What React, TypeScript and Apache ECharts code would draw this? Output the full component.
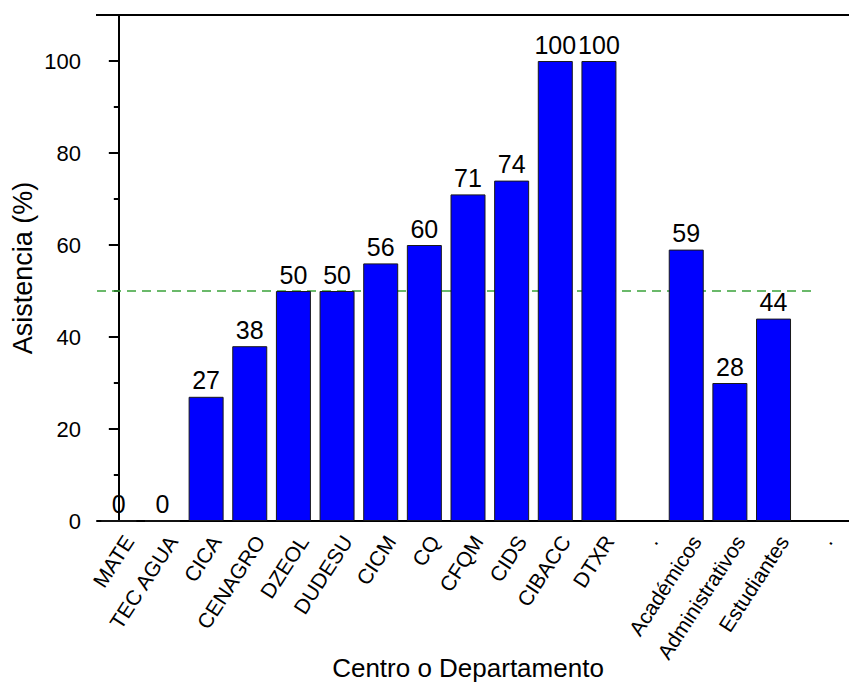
import React, { useEffect, useRef } from "react";
import * as echarts from "echarts";

const categories = [
  "MATE", "TEC AGUA", "CICA", "CENAGRO", "DZEOL", "DUDESU", "CICM", "CQ",
  "CFQM", "CIDS", "CIBACC", "DTXR", ".", "Académicos", "Administrativos",
  "Estudiantes", ".",
];
const values = [0, 0, 27, 38, 50, 50, 56, 60, 71, 74, 100, 100, null, 59, 30, 44, null];
const valueLabels = ["0", "0", "27", "38", "50", "50", "56", "60", "71", "74", "100", "100", "", "59", "28", "44", ""];
const threshold = 50;
// threshold line extent, in category-index units
const thresholdSpan = [-0.5, 15.9];
const yMin = 0;
const yMax = 110;
const yInterval = 20;

const FONT = "'Liberation Sans', Arial, sans-serif";

export default function App() {
  const ref = useRef<HTMLDivElement>(null);
  useEffect(() => {
    if (!ref.current) return;
    const chart = echarts.init(ref.current, undefined, { renderer: "svg" });
    const gridLeft = 97;
    const gridTop = 15;
    const gridWidth = 742;
    const gridHeight = 506;
    chart.setOption({
      animation: false,
      backgroundColor: "#ffffff",
      textStyle: { fontFamily: FONT },
      grid: {
        left: gridLeft, top: gridTop, width: gridWidth, height: gridHeight,
        containLabel: false, outerBoundsMode: "none",
      },
      xAxis: [
        {
          type: "category",
          data: categories,
          boundaryGap: true,
          name: "Centro o Departamento",
          nameLocation: "middle",
          nameGap: 134,
          nameMoveOverlap: false,
          nameTextStyle: { fontSize: 26, color: "#000", fontFamily: FONT },
          axisLine: { show: true, lineStyle: { color: "#000", width: 2 } },
          axisTick: { show: false },
          axisLabel: {
            interval: 0,
            rotate: 57,
            margin: 10,
            lineHeight: 24,
            fontSize: 21,
            color: "#000",
            fontFamily: FONT,
            formatter: (v: string) => "\n" + v,
          },
          splitLine: { show: false },
        },
        {
          type: "value",
          min: -0.5,
          max: categories.length - 0.5,
          show: false,
        },
      ],
      yAxis: {
        type: "value",
        min: yMin,
        max: yMax,
        interval: yInterval,
        name: "Asistencia (%)",
        nameLocation: "middle",
        nameGap: 61,
        nameMoveOverlap: false,
        nameTextStyle: { fontSize: 27, color: "#000", fontFamily: FONT },
        axisLine: { show: true, lineStyle: { color: "#000", width: 2 } },
        axisTick: { show: true, inside: false, length: 10, lineStyle: { color: "#000", width: 2 } },
        minorTick: { show: true, splitNumber: 2, length: 5, lineStyle: { color: "#000", width: 2 } },
        axisLabel: {
          margin: 16,
          fontSize: 22,
          color: "#000",
          fontFamily: FONT,
          showMaxLabel: false,
        },
        splitLine: { show: false },
      },
      graphic: [
        {
          type: "line",
          shape: { x1: gridLeft - 1, y1: gridTop, x2: 849, y2: gridTop },
          style: { stroke: "#000", lineWidth: 2 },
          silent: true,
        },
        {
          type: "line",
          shape: { x1: gridLeft + gridWidth, y1: gridTop + gridHeight, x2: 849, y2: gridTop + gridHeight },
          style: { stroke: "#000", lineWidth: 2 },
          silent: true,
        },
      ],
      series: [
        {
          type: "bar",
          data: values,
          barWidth: 35,
          itemStyle: { color: "#0000ff", borderColor: "#1a1a1a", borderWidth: 1 },
          label: {
            show: true,
            position: "top",
            distance: 4,
            fontSize: 25,
            color: "#000",
            fontFamily: FONT,
            formatter: (p: any) => valueLabels[p.dataIndex],
          },
        },
        {
          type: "line",
          xAxisIndex: 1,
          data: thresholdSpan.map((x) => [x, threshold]),
          symbol: "none",
          silent: true,
          lineStyle: { color: "#3aa33a", type: [9, 6], width: 1.5 },
          z: 1,
        },
      ],
    });
    return () => chart.dispose();
  }, []);
  return (
    <div
      ref={ref}
      style={{ position: "fixed", left: 0, top: 0, width: 849, height: 682, background: "#fff" }}
    />
  );
}
